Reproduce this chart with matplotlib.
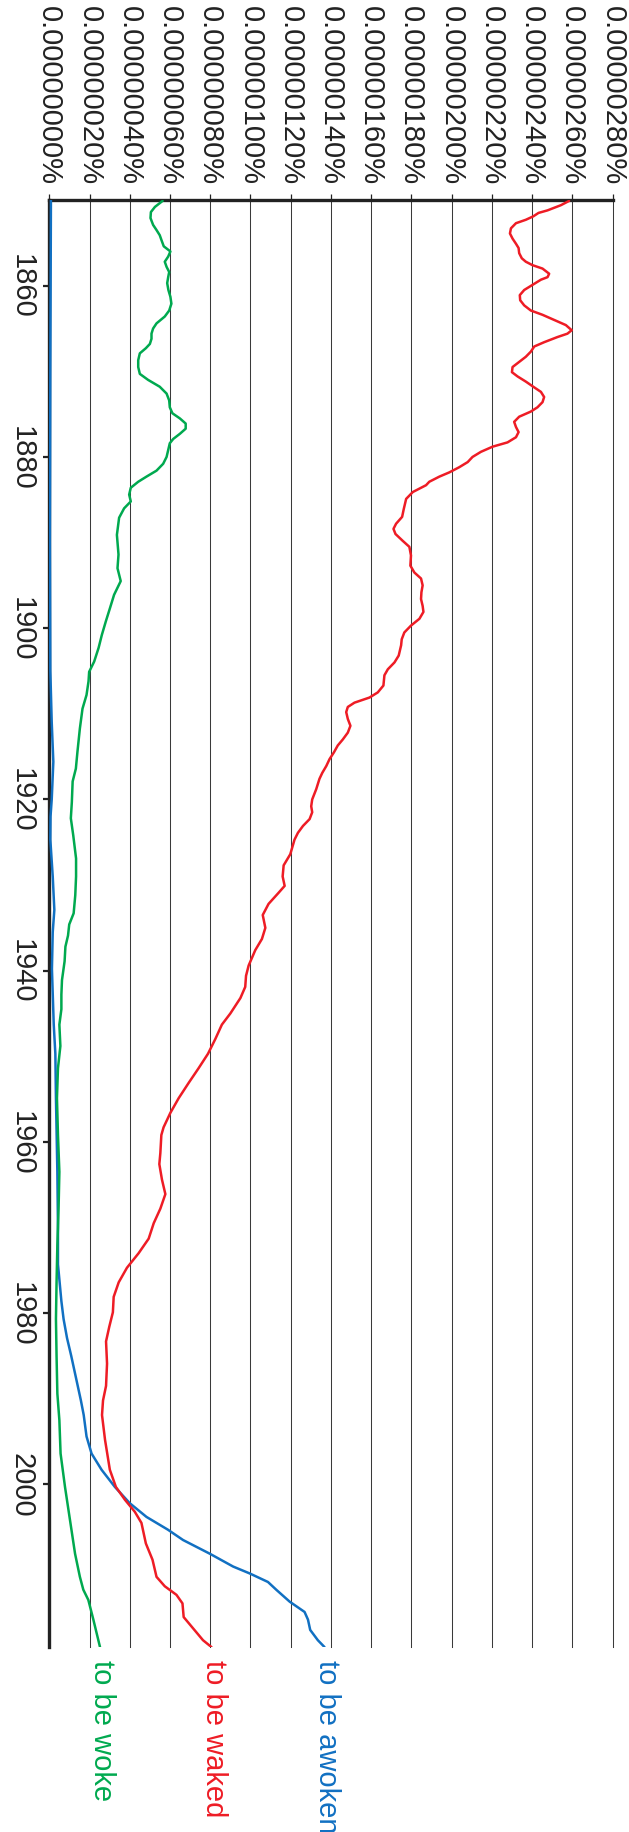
#!/usr/bin/env python3
"""Ngram-style frequency chart, drawn rotated a quarter turn clockwise."""
import matplotlib
matplotlib.use("Agg")
import matplotlib.pyplot as plt

plt.rcParams["font.family"] = ["Liberation Sans", "DejaVu Sans"]

# values are in units of 1e-8 percent (so 260 -> 0.00000260%)
RED_YEARS = [1850.1, 1850.6, 1851.2, 1851.5, 1851.9, 1852.3, 1852.7, 1853.3, 1853.9, 1854.5,
             1855.1, 1855.6, 1856.2, 1856.8, 1857.2, 1857.6, 1858.0, 1858.6, 1859.0, 1859.3,
             1859.9, 1860.5, 1861.1, 1861.7, 1862.3, 1862.9, 1863.4, 1864.0, 1864.6, 1865.2,
             1865.6, 1866.0, 1866.6, 1867.1, 1867.7, 1868.3, 1868.9, 1869.5, 1870.1, 1870.6,
             1871.2, 1871.8, 1872.4, 1873.0, 1873.6, 1874.2, 1874.7, 1875.3, 1875.9, 1876.5,
             1877.1, 1877.7, 1878.3, 1878.8, 1879.4, 1880.0, 1880.6, 1881.2, 1881.8, 1882.3,
             1882.9, 1883.3, 1884.1, 1884.9, 1886.1, 1887.0, 1887.8, 1888.4, 1889.0, 1889.8,
             1890.5, 1891.5, 1892.7, 1893.5, 1894.2, 1895.0, 1895.8, 1896.6, 1897.4, 1898.1,
             1898.9, 1899.7, 1900.5, 1901.3, 1902.0, 1903.2, 1904.0, 1904.8, 1905.5, 1906.7,
             1907.5, 1908.1, 1908.7, 1909.2, 1909.8, 1910.6, 1911.4, 1912.2, 1913.0, 1913.7,
             1914.5, 1915.3, 1916.1, 1916.9, 1917.6, 1918.8, 1920.0, 1920.8, 1921.5, 1922.3,
             1923.1, 1923.9, 1924.7, 1926.4, 1927.7, 1929.0, 1930.1, 1930.9, 1932.2, 1933.5,
             1935.0, 1936.3, 1937.6, 1939.4, 1940.6, 1941.9, 1943.2, 1945.0, 1946.3, 1948.0,
             1949.7, 1951.4, 1953.1, 1954.9, 1956.6, 1958.3, 1959.2, 1961.3, 1962.6, 1964.4,
             1966.1, 1967.8, 1969.5, 1971.3, 1973.0, 1974.7, 1976.4, 1978.1, 1979.9, 1981.6,
             1983.3, 1985.9, 1988.5, 1990.2, 1991.9, 1994.8, 1998.3, 2000.3, 2001.8, 2003.2,
             2004.5, 2006.9, 2008.8, 2010.8, 2011.9, 2012.9, 2013.9, 2015.5, 2016.6, 2018.2,
             2019.0]
RED_VALUES = [258.4, 254.3, 247.7, 243.2, 240.6, 236.9, 232.0, 229.5, 229.0, 230.3,
              232.0, 233.3, 233.6, 234.9, 236.9, 240.2, 245.2, 248.5, 247.7, 244.4,
              240.2, 236.1, 233.9, 234.1, 236.1, 239.4, 245.2, 251.0, 256.8, 259.7,
              257.6, 252.6, 246.0, 241.1, 239.4, 236.9, 233.6, 230.3, 230.0, 232.8,
              236.9, 240.6, 244.4, 246.0, 245.2, 242.7, 239.4, 233.6, 231.1, 232.0,
              233.3, 232.0, 227.8, 220.4, 214.6, 210.4, 208.0, 203.8, 198.9, 193.9,
              188.9, 187.3, 180.7, 177.4, 176.2, 175.4, 172.4, 171.1, 172.1, 175.7,
              179.0, 179.8, 179.5, 181.5, 184.8, 185.6, 185.0, 184.8, 185.6, 186.0,
              184.0, 179.8, 176.5, 175.2, 174.9, 173.7, 171.6, 168.3, 166.6, 166.1,
              163.3, 159.2, 151.7, 148.4, 147.6, 148.4, 149.7, 148.4, 145.9, 143.4,
              141.5, 139.3, 137.7, 135.7, 134.3, 132.7, 130.7, 130.2, 130.7, 129.4,
              126.1, 123.6, 121.9, 119.8, 116.5, 116.0, 117.0, 114.0, 109.0, 106.1,
              107.4, 105.7, 102.4, 99.1, 97.8, 97.4, 95.0, 90.0, 85.8, 82.5,
              78.9, 74.2, 69.3, 64.3, 60.2, 56.8, 55.7, 55.2, 54.7, 56.0,
              57.7, 55.2, 51.9, 49.4, 44.4, 38.6, 34.5, 32.0, 31.6, 29.8,
              28.2, 28.7, 28.2, 26.7, 26.2, 27.7, 30.1, 33.1, 37.6, 42.5,
              45.8, 48.0, 51.3, 53.3, 57.4, 63.2, 66.2, 66.8, 70.7, 76.4,
              80.6]

GREEN_YEARS = [1850.1, 1850.8, 1851.4, 1852.1, 1852.9, 1853.5, 1854.1, 1854.7, 1855.4, 1856.0,
               1856.6, 1857.2, 1857.8, 1858.4, 1859.0, 1859.7, 1860.5, 1861.3, 1862.1, 1862.9,
               1863.6, 1864.4, 1865.0, 1865.6, 1866.2, 1866.8, 1867.3, 1867.9, 1868.7, 1869.5,
               1870.3, 1871.0, 1871.8, 1872.6, 1873.4, 1874.2, 1874.9, 1875.5, 1876.1, 1876.7,
               1877.3, 1877.9, 1878.4, 1879.2, 1880.0, 1880.8, 1881.6, 1882.3, 1882.9, 1883.6,
               1884.4, 1885.2, 1886.0, 1887.1, 1889.1, 1891.4, 1893.0, 1894.5, 1896.1, 1897.7,
               1899.2, 1900.8, 1902.3, 1903.9, 1905.1, 1906.2, 1907.8, 1909.4, 1911.7, 1914.4,
               1916.4, 1917.9, 1920.3, 1922.2, 1924.2, 1926.9, 1929.0, 1931.2, 1933.3, 1934.6,
               1935.9, 1937.2, 1938.9, 1941.1, 1942.8, 1944.5, 1946.3, 1948.8, 1951.4, 1954.9,
               1959.2, 1963.5, 1967.8, 1972.1, 1976.4, 1980.7, 1985.0, 1989.4, 1992.5, 1996.4,
               2000.3, 2004.2, 2008.1, 2010.8, 2012.3, 2013.5, 2015.8, 2019.0]
GREEN_VALUES = [56.3, 52.5, 50.5, 50.3, 51.6, 53.3, 54.9, 55.8, 56.9, 60.2,
                59.1, 57.4, 58.3, 59.6, 59.1, 58.6, 59.2, 60.2, 60.7, 59.6,
                57.4, 53.3, 51.6, 50.8, 50.8, 50.0, 48.0, 45.0, 44.2, 44.2,
                45.0, 49.1, 54.9, 58.3, 59.6, 59.9, 61.2, 64.9, 67.8, 67.8,
                64.9, 61.6, 59.9, 59.1, 58.3, 56.6, 53.3, 48.3, 44.2, 40.5,
                39.7, 40.5, 37.2, 34.7, 33.6, 34.4, 33.9, 35.5, 32.2, 30.1,
                28.1, 26.1, 24.5, 22.3, 19.8, 19.5, 18.5, 16.5, 15.2, 14.0,
                13.2, 11.6, 11.2, 10.7, 11.9, 13.3, 13.3, 12.9, 12.1, 9.9,
                9.3, 8.0, 7.6, 6.3, 6.0, 6.0, 5.0, 5.5, 4.3, 3.8,
                4.3, 5.0, 4.6, 4.0, 3.6, 3.3, 3.6, 4.0, 5.0, 5.6,
                7.8, 10.3, 12.8, 15.2, 16.9, 19.4, 21.9, 25.2]

BLUE_YEARS = [1850, 1870, 1890, 1905, 1911, 1915.6, 1920, 1922, 1924.7, 1929,
              1932.9, 1935.5, 1939.8, 1946.3, 1949.7, 1954.9, 1963.5, 1970, 1974.3, 1978.6,
              1980.7, 1982.9, 1985, 1987.6, 1990.2, 1991.9, 1994.4, 1996.4, 1998.3, 2000.3,
              2002.2, 2003.8, 2005.3, 2006.5, 2008.1, 2009.6, 2010.4, 2011.4, 2012.3, 2013.7,
              2014.9, 2015.8, 2017, 2018.2, 2019]
BLUE_VALUES = [0.8, 0.5, 0.3, 0.5, 1.2, 2.0, 1.2, 0.6, 0.5, 1.7,
               2.5, 1.7, 1.3, 2.2, 3.0, 3.3, 4.0, 4.3, 4.3, 6.0,
               7.1, 8.8, 10.9, 13.3, 15.7, 17.1, 18.5, 21.0, 26.0, 32.6,
               40.0, 48.3, 59.0, 66.5, 79.8, 91.4, 99.6, 108.7, 112.8, 119.5,
               126.9, 128.6, 129.7, 133.5, 136.8]

SERIES_LABELS = ["to be awoken", "to be waked", "to be woke"]
SERIES_COLORS = ["#1170c2", "#ee1c25", "#00a94f"]

VALUE_TICKS = list(range(0, 281, 20))
YEAR_TICKS = [1860, 1880, 1900, 1920, 1940, 1960, 1980, 2000]
FIRST_YEAR, LAST_YEAR = 1850, 2019

FONT_SIZE = 21
INK = "#222222"


def main() -> None:
    fig = plt.figure(figsize=(6.29, 18.33), dpi=100)
    ax = fig.add_axes([0.0784, 0.1009, 0.8954, 0.7894])

    series = [
        (BLUE_YEARS, BLUE_VALUES),
        (RED_YEARS, RED_VALUES),
        (GREEN_YEARS, GREEN_VALUES),
    ]
    for (years, values), label, color in zip(series, SERIES_LABELS, SERIES_COLORS):
        ax.plot(values, years, color=color, lw=1.8, solid_capstyle="round",
                solid_joinstyle="round", zorder=3)
        ax.annotate(label, xy=(values[-1], years[-1]), xytext=(1.5, -8.5),
                    textcoords="offset points", rotation=-90, ha="center", va="top",
                    color=color, fontsize=FONT_SIZE, annotation_clip=False)

    ax.set_xlim(0, 280)
    ax.set_ylim(LAST_YEAR, FIRST_YEAR)

    ax.set_xticks(VALUE_TICKS)
    ax.set_xticklabels([f"{t * 1e-8:.8f}%" for t in VALUE_TICKS], rotation=-90)
    ax.set_yticks(YEAR_TICKS)
    ax.set_yticklabels([str(y) for y in YEAR_TICKS], rotation=-90, va="center")

    ax.xaxis.tick_top()
    ax.tick_params(axis="x", top=True, bottom=False, labeltop=True, labelbottom=False,
                   length=4.5, width=0.9, pad=7, labelsize=FONT_SIZE, color=INK, labelcolor=INK)
    ax.tick_params(axis="y", length=4.3, width=1.6, pad=5.5, labelsize=FONT_SIZE,
                   color=INK, labelcolor=INK)

    ax.grid(axis="x", color="#3a3a3a", lw=0.75)
    ax.set_axisbelow(True)
    for line in ax.get_xgridlines():
        line.set_clip_on(False)

    for side in ("right", "bottom"):
        ax.spines[side].set_visible(False)
    for side in ("top", "left"):
        ax.spines[side].set_linewidth(2.4)
        ax.spines[side].set_color(INK)

    fig.savefig("out.png", dpi=100)
    plt.close(fig)


if __name__ == "__main__":
    main()
